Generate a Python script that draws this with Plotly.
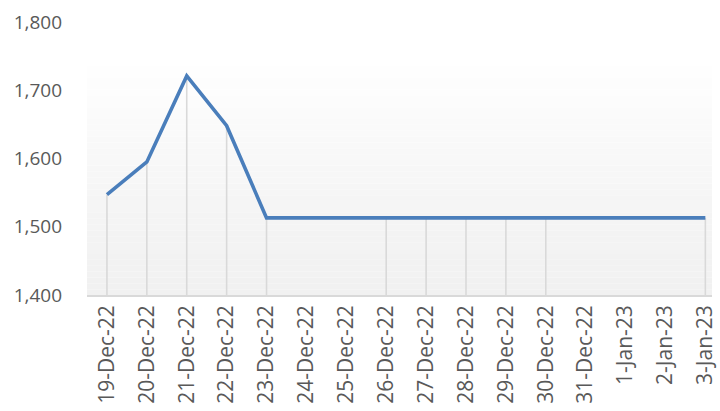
import plotly.graph_objects as go

# Daily price series (holidays/weekends have no quote)
dates = ["2022-12-19", "2022-12-20", "2022-12-21", "2022-12-22", "2022-12-23",
         "2022-12-26", "2022-12-27", "2022-12-28", "2022-12-29", "2022-12-30",
         "2023-01-03"]
prices = [1547, 1595, 1721, 1648, 1513, 1513, 1513, 1513, 1513, 1513, 1513]

y_min, y_max = 1400, 1800
y_ticks = [1400, 1500, 1600, 1700, 1800]

LINE_BLUE = "#4a7ebb"
DROP_GREY = "#d9d9d9"
TEXT_GREY = "#595959"
FONT = "Open Sans"

fig = go.Figure()

# Drop lines from each point down to the axis floor
fig.add_trace(go.Scatter(
    x=dates, y=prices, mode="markers",
    marker=dict(size=0.1, color="rgba(0,0,0,0)"),
    error_y=dict(type="data", symmetric=False,
                 array=[0] * len(prices),
                 arrayminus=[p - y_min for p in prices],
                 color=DROP_GREY, thickness=1.6, width=0),
    hoverinfo="skip", showlegend=False,
))

fig.add_trace(go.Scatter(
    x=dates, y=prices, mode="lines",
    line=dict(color=LINE_BLUE, width=3.6),
    showlegend=False,
))

# Soft vertical gradient behind the plot area (white at top, light grey below)
top_frac = 0.86
n_bands = 40
shapes = []
for i in range(n_bands):
    y0 = top_frac * i / n_bands
    y1 = top_frac * (i + 1) / n_bands
    t = (i + 0.5) / n_bands  # 0 at bottom, 1 at top
    g = int(round(241 + (255 - 241) * t ** 1.3))
    shapes.append(dict(type="rect", xref="paper", yref="paper",
                       x0=0, x1=1, y0=y0, y1=y1, layer="below",
                       line=dict(width=0), fillcolor=f"rgb({g},{g},{g})"))

fig.update_layout(
    width=720, height=411,
    margin=dict(l=87, r=8, t=22, b=116, autoexpand=False),
    paper_bgcolor="white", plot_bgcolor="white",
    shapes=shapes,
    font=dict(family=FONT, color=TEXT_GREY, size=19),
    xaxis=dict(
        type="date", automargin=False,
        range=["2022-12-18 12:00", "2023-01-03 04:00"],
        dtick=86400000, tick0="2022-12-19",
        tickformat="%-d-%b-%y", tickangle=-90,
        tickfont=dict(family=FONT, size=21, color=TEXT_GREY),
        showgrid=False, zeroline=False,
        showline=True, linecolor=DROP_GREY, linewidth=1.6,
        ticks="",
    ),
    yaxis=dict(
        range=[y_min, y_max], tickvals=y_ticks, automargin=False,
        tickformat=",d",
        tickfont=dict(family=FONT, size=19, color=TEXT_GREY),
        showgrid=False, zeroline=False, showline=False,
        ticks="", ticklabelstandoff=24,
    ),
)

fig.write_html("out.html")
